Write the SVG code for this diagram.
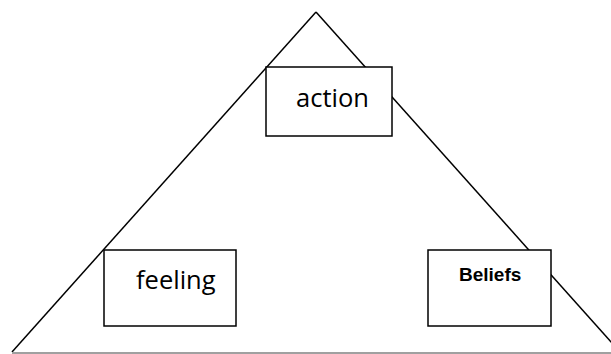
<svg xmlns="http://www.w3.org/2000/svg" width="611" height="354" viewBox="0 0 611 354">
<style>
.edge{stroke:#000;stroke-width:1.5;fill:none}
.box{fill:#fff;stroke:#000;stroke-width:1.5}
.lbl{font-family:"Open Sans","Liberation Sans",sans-serif;font-size:25.5px;fill:#000}
.blbl{font-family:"Liberation Sans",Arial,sans-serif;font-weight:bold;font-size:19px;fill:#000}
</style>
<rect width="611" height="354" fill="#fff"/>
<g id="connectors">
<line class="edge" x1="316" y1="12" x2="12" y2="352"/>
<line class="edge" x1="316" y1="12" x2="620" y2="352"/>
<line x1="12" y1="353" x2="611" y2="353" stroke="#a0a0a0" stroke-width="2"/>
</g>
<g id="action">
<rect class="box" x="266" y="67" width="126" height="69"/>
<text class="lbl" x="296" y="107">action</text>
</g>
<g id="feeling">
<rect class="box" x="104" y="250" width="132" height="76"/>
<text class="lbl" x="136" y="289">feeling</text>
</g>
<g id="beliefs">
<rect class="box" x="428" y="250" width="123" height="76"/>
<text class="blbl" x="459" y="281">Beliefs</text>
</g>
</svg>
